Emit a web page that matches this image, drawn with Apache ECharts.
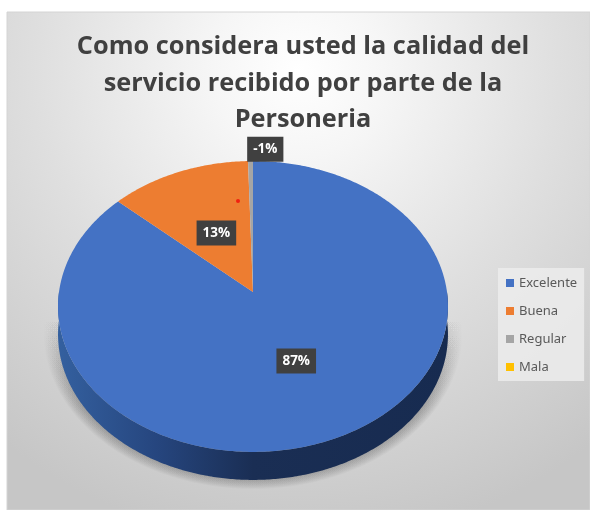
<!DOCTYPE html>
<html>
<head>
<meta charset="utf-8">
<style>html,body{margin:0;padding:0;background:#fff}#c{width:590px;height:510px}</style>
<script src="https://cdn.jsdelivr.net/npm/echarts@6/dist/echarts.min.js"></script>
</head>
<body>
<div id="c"></div>
<script>
const titleText = 'Como considera usted la calidad del\nservicio recibido por parte de la\nPersoneria';
const categories = ['Excelente', 'Buena', 'Regular', 'Mala'];
const values = [86.7, 12.85, -0.45, 0];
const labels = ['87%', '13%', '-1%', ''];
const colors = ['#4472c4', '#ed7d31', '#a5a5a5', '#ffc000'];

// Tilted-disc projection of the pie
const CX = 253, CY = 292, RX = 194, RY = 144, K = 0.0995, DEPTH = 28;
const labelRadius = [0.5, 0.47, 1.1, 0];
const labelShift = [2, 0, 15, 0];
const SHADOW_LAYERS = 14;

const total = values.reduce((a, b) => a + Math.abs(b), 0);
function project(theta, r) {
  const u = Math.sin(theta) * r, v = Math.cos(theta) * r, d = 1 + K * v;
  return [CX + RX * u / d, CY - RY * v / d];
}
function sliceAngles(i) {
  let s = 0;
  for (let j = 0; j < i; j++) s += Math.abs(values[j]);
  return [s / total * 2 * Math.PI, (s + Math.abs(values[i])) / total * 2 * Math.PI];
}
function arc(a0, a1, r) {
  const pts = [], n = Math.max(2, Math.ceil((a1 - a0) / 0.01));
  for (let k = 0; k <= n; k++) pts.push(project(a0 + (a1 - a0) * k / n, r === undefined ? 1 : r));
  return pts;
}
function renderSlice(i) {
  return function (params, api) {
    const [a0, a1] = sliceAngles(i);
    if (a1 <= a0) return null;
    const children = [];
    const lo = Math.max(a0, Math.PI / 2), hi = Math.min(a1, 3 * Math.PI / 2);
    if (hi > lo) {
      for (let s = SHADOW_LAYERS; s >= 1; s--) {
        const ring = arc(lo, hi, 1 + s / RX).map(p => [p[0], p[1] + DEPTH - 4]);
        children.push({
          type: 'polygon', shape: { points: ring },
          style: {
            fill: {
              type: 'linear', x: 0, y: 0, x2: 0, y2: 1,
              colorStops: [
                { offset: 0, color: 'rgba(60,60,60,0)' },
                { offset: 0.55, color: 'rgba(60,60,60,0.036)' },
                { offset: 1, color: 'rgba(60,60,60,0.036)' }
              ]
            }
          }
        });
      }
      const top = arc(lo, hi);
      const wall = top.concat(top.slice().reverse().map(p => [p[0], p[1] + DEPTH]));
      children.push({
        type: 'polygon', shape: { points: wall },
        style: {
          fill: {
            type: 'linear', x: 1, y: 0, x2: 0, y2: 0,
            colorStops: [
              { offset: 0, color: '#172b50' }, { offset: 0.5, color: '#1a2e54' },
              { offset: 0.75, color: '#26467f' }, { offset: 1, color: '#34609f' }
            ]
          }
        }
      });
    }
    children.push({
      type: 'polygon',
      shape: { points: [[CX, CY]].concat(arc(a0, a1)) },
      style: { fill: colors[i] }
    });
    return { type: 'group', children };
  };
}
function renderLabel(i) {
  return function () {
    const [a0, a1] = sliceAngles(i);
    const p = project((a0 + a1) / 2, labelRadius[i]);
    return {
      type: 'text', z2: 100,
      style: {
        x: p[0] + labelShift[i], y: p[1], text: labels[i],
        align: 'center', verticalAlign: 'middle',
        font: 'bold 13.5px "Open Sans"', fill: '#ffffff',
        backgroundColor: '#404040', padding: [6, 6, 5, 6],
        boxShadowColor: 'rgba(0,0,0,0.55)', boxShadowBlur: 5, boxShadowOffsetX: 2, boxShadowOffsetY: 2
      }
    };
  };
}

const series = categories.map((name, i) => ({
  type: 'custom', name, coordinateSystem: 'none', silent: true, animation: false,
  z: i === 0 ? 2 : 3,
  itemStyle: { color: colors[i] },
  data: [values[i]],
  renderItem: renderSlice(i)
}));
categories.forEach((name, i) => {
  if (labels[i]) series.push({
    type: 'custom', coordinateSystem: 'none', silent: true, animation: false,
    z: 6, data: [values[i]], renderItem: renderLabel(i)
  });
});

const chart = echarts.init(document.getElementById('c'), null, { renderer: 'canvas' });
chart.setOption({
  backgroundColor: '#ffffff',
  animation: false,
  graphic: [
    {
      type: 'rect', z: -10, silent: true,
      shape: { x: 7, y: 12, width: 583, height: 498 },
      style: {
        fill: {
          type: 'radial', x: 0.5, y: 0.12, r: 0.95,
          colorStops: [
            { offset: 0, color: '#ffffff' }, { offset: 0.18, color: '#f6f6f6' },
            { offset: 0.55, color: '#dfdfdf' }, { offset: 1, color: '#c6c6c6' }
          ]
        },
        stroke: '#d4d4d4', lineWidth: 1
      }
    },
    { type: 'circle', z: 8, silent: true, shape: { cx: 238, cy: 201, r: 2 }, style: { fill: '#f02010' } }
  ],
  title: {
    text: titleText, left: 298, top: 24, textAlign: 'center',
    textStyle: { fontFamily: '"Open Sans"', fontSize: 25.3, fontWeight: 700, color: '#404040', lineHeight: 36.5 }
  },
  legend: {
    data: categories, orient: 'vertical', left: 498, top: 268,
    icon: 'rect', itemWidth: 8, itemHeight: 8, itemGap: 12, selectedMode: false,
    backgroundColor: 'rgba(236,236,236,0.85)', padding: [7, 7, 6, 8],
    textStyle: { fontFamily: '"Noto Sans"', fontSize: 13, color: '#595959', padding: [0, 0, 0, 0], lineHeight: 16 }
  },
  series
});
</script>
</body>
</html>
